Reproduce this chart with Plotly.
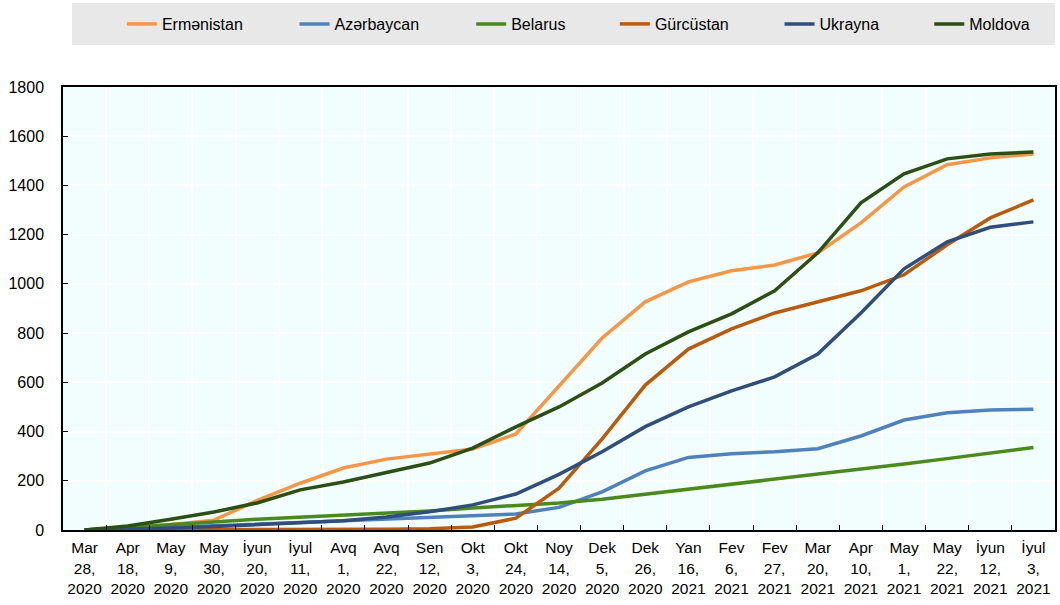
import plotly.graph_objects as go

labels = ["Mar<br>28,<br>2020", "Apr<br>18,<br>2020", "May<br>9,<br>2020", "May<br>30,<br>2020",
          "İyun<br>20,<br>2020", "İyul<br>11,<br>2020", "Avq<br>1,<br>2020", "Avq<br>22,<br>2020",
          "Sen<br>12,<br>2020", "Okt<br>3,<br>2020", "Okt<br>24,<br>2020", "Noy<br>14,<br>2020",
          "Dek<br>5,<br>2020", "Dek<br>26,<br>2020", "Yan<br>16,<br>2021", "Fev<br>6,<br>2021",
          "Fev<br>27,<br>2021", "Mar<br>20,<br>2021", "Apr<br>10,<br>2021", "May<br>1,<br>2021",
          "May<br>22,<br>2021", "İyun<br>12,<br>2021", "İyul<br>3,<br>2021"]

ermenistan = [0, 10, 22, 40, 120, 190, 252, 288, 309, 329, 390, 585, 780, 927, 1008, 1053, 1077, 1126, 1248, 1394, 1484, 1512, 1528]
azerbaycan = [0, 4, 10, 17, 24, 30, 38, 46, 53, 58, 65, 92, 155, 240, 295, 310, 318, 330, 382, 447, 476, 488, 491]
belarus = [0, 10, 22, 33, 44, 52, 61, 68, 77, 89, 100, 110, 125, 145, 165, 185, 205, 225, 246, 268, 290, 312, 335]
gurcustan = [0, 0, 1, 1, 1, 2, 2, 3, 5, 12, 48, 170, 370, 589, 735, 817, 882, 927, 972, 1037, 1159, 1268, 1341]
ukrayna = [0, 3, 8, 14, 22, 28, 38, 53, 74, 102, 146, 226, 318, 420, 500, 565, 622, 715, 882, 1061, 1171, 1230, 1252]
moldova = [0, 16, 44, 73, 110, 163, 195, 232, 272, 333, 419, 500, 597, 715, 805, 878, 972, 1126, 1329, 1447, 1508, 1528, 1536]

series = [
    ("Ermənistan", ermenistan, "#F79646"),
    ("Azərbaycan", azerbaycan, "#4F81BD"),
    ("Belarus", belarus, "#4A8A1C"),
    ("Gürcüstan", gurcustan, "#BA5A0D"),
    ("Ukrayna", ukrayna, "#2F4E7C"),
    ("Moldova", moldova, "#2B4F14"),
]

FONT = "Liberation Sans, Arial"

# legend entry anchor positions (pixels)
legend_px = [127, 300, 477, 621, 786, 936]
L, R, T, B = 63, 3, 87, 75
W, H = 1060, 605
pw = W - L - R
ph = H - T - B

fig = go.Figure()
layout_legends = {}
for i, (name, vals, col) in enumerate(series):
    lname = "legend" if i == 0 else f"legend{i+1}"
    fig.add_trace(go.Scatter(x=labels, y=vals, name=name, mode="lines",
                             line=dict(color=col, width=3.5), legend=lname))
    layout_legends[lname] = dict(
        x=(legend_px[i] - L - 5) / pw, xanchor="left",
        y=(H - B - 24) / ph, yanchor="middle",
        bgcolor="rgba(0,0,0,0)", borderwidth=0,
        font=dict(family=FONT, size=16, color="black"),
        orientation="h",
    )

fig.add_shape(type="rect", xref="paper", yref="paper",
              x0=(72 - L) / pw, x1=1.0, y0=(H - B - 45) / ph, y1=(H - B - 3) / ph,
              fillcolor="#E8E8E8", line=dict(width=0), layer="below")

fig.update_layout(
    width=W, height=H,
    margin=dict(l=L, r=R, t=T, b=B),
    paper_bgcolor="white",
    plot_bgcolor="#F2FEFE",
    font=dict(family=FONT, size=16, color="black"),
    showlegend=True,
    **layout_legends,
)
fig.update_xaxes(type="category", range=[-0.5, len(labels) - 0.5], tickson="boundaries",
                 ticks="inside", ticklen=5,
                 tickcolor="black", showgrid=True, gridcolor="white", gridwidth=1.5,
                 showline=True, linecolor="black", linewidth=1.5, mirror=True,
                 tickangle=0, tickfont=dict(size=15.5), ticklabelstandoff=3)
fig.update_yaxes(range=[0, 1800], dtick=200, ticks="inside", ticklen=5, tickcolor="black",
                 showgrid=True, gridcolor="white", gridwidth=1.5,
                 showline=True, linecolor="black", linewidth=1.5, mirror=True,
                 zeroline=False, tickfont=dict(size=16), ticklabelstandoff=14)

fig.write_html("out.html", config={"displayModeBar": False},
               post_script="document.body.style.margin='0';")
